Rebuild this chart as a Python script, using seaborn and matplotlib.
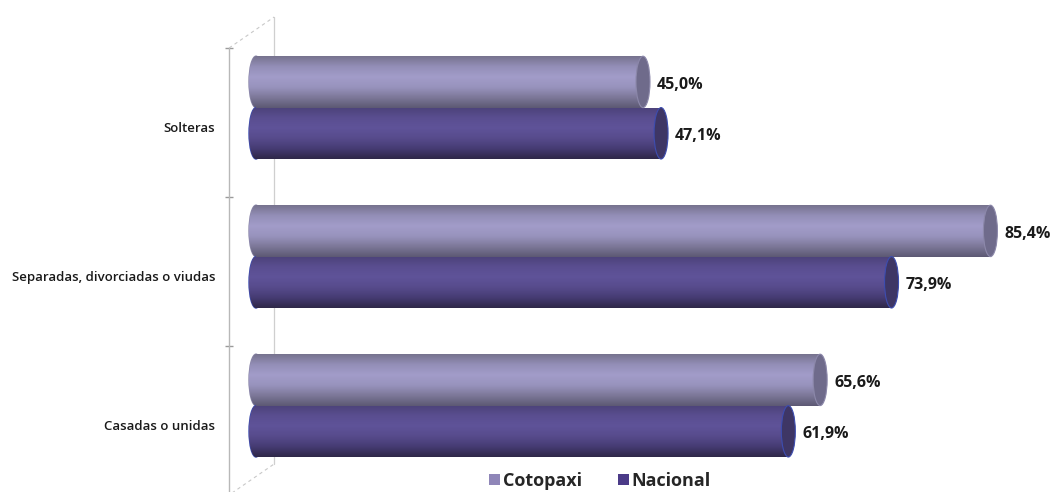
import numpy as np
import pandas as pd
import matplotlib
matplotlib.use("Agg")
import matplotlib.pyplot as plt
import matplotlib.transforms as mtrans
from matplotlib.patches import Ellipse, Rectangle
from matplotlib.colors import LinearSegmentedColormap
import seaborn as sns

# ---- data ----
categories = ["Solteras", "Separadas, divorciadas o viudas", "Casadas o unidas"]
series = ["Cotopaxi", "Nacional"]
cotopaxi = [45.0, 85.4, 65.6]
nacional = [47.1, 73.9, 61.9]

df = pd.DataFrame({
    "categoria": categories * 2,
    "serie": [series[0]] * 3 + [series[1]] * 3,
    "valor": cotopaxi + nacional,
})

sns.set_theme(style="white")
plt.rcParams["font.family"] = ["Open Sans", "DejaVu Sans"]

legend_colors = {"Cotopaxi": "#8f86b8", "Nacional": "#4b3b88"}
# vertical shading of each cylinder (top -> bottom)
shades = {
    "Cotopaxi": ["#77738f", "#948fb8", "#a29cc9", "#9893bd", "#7d7899", "#5d5974"],
    "Nacional": ["#4c427a", "#5a4e90", "#5f5399", "#574b8c", "#463c74", "#2f2849"],
}
cap_face = {"Cotopaxi": "#6f6b8b", "Nacional": "#3e3665"}
cap_edge = {"Cotopaxi": "#8c88aa", "Nacional": "#3d4db0"}

W, H, DPI = 10.54, 4.92, 100
fig = plt.figure(figsize=(W, H), dpi=DPI)
px_per_unit = 8.6
xmin, xmax = -1.5, 90
zero_px, top_px, bot_px = 256, 48, 495
left_px = zero_px + xmin * px_per_unit
ax = fig.add_axes([left_px / 1054, (492 - bot_px) / 492,
                   (xmax - xmin) * px_per_unit / 1054, (bot_px - top_px) / 492])

sns.barplot(data=df, y="categoria", x="valor", hue="serie", order=categories,
            hue_order=series, orient="h", width=0.69, dodge=True,
            palette=legend_colors, ax=ax, legend=False)

cap_w = 14 / px_per_unit  # cap ellipse width in data units

for cont, name in zip(ax.containers, series):
    cmap = LinearSegmentedColormap.from_list(name, shades[name])
    grad = np.linspace(0, 1, 64).reshape(-1, 1)
    for bar, val in zip(cont.patches, cont.datavalues):
        x0, y0 = bar.get_x(), bar.get_y()
        w, h = bar.get_width(), bar.get_height()
        yc = y0 + h / 2
        bar.set_facecolor("none")
        bar.set_edgecolor("none")
        # left rounded end
        lcap = Ellipse((x0, yc), cap_w, h, facecolor="none",
                       edgecolor=cap_edge[name], lw=1.0, zorder=2)
        ax.add_patch(lcap)
        img_l = ax.imshow(grad, cmap=cmap, aspect="auto", zorder=2,
                          extent=[x0 - cap_w, x0 + cap_w, y0 + h, y0],
                          interpolation="bilinear")
        img_l.set_clip_path(lcap)
        # cylinder body
        body = Rectangle((x0, y0), w, h, facecolor="none", edgecolor="none")
        ax.add_patch(body)
        img = ax.imshow(grad, cmap=cmap, aspect="auto", zorder=3,
                        extent=[x0, x0 + w, y0 + h, y0],
                        interpolation="bilinear")
        img.set_clip_path(body)
        # right end face
        rcap = Ellipse((x0 + w, yc), cap_w, h, facecolor=cap_face[name],
                       edgecolor=cap_edge[name], lw=0.8, zorder=4)
        ax.add_patch(rcap)
        # value label
        lab = f"{val:.1f}".replace(".", ",") + "%"
        ax.annotate(lab, (x0 + w + cap_w / 2, yc), xytext=(5, -2),
                    textcoords="offset points", ha="left", va="center",
                    fontsize=11.5, fontweight="bold", color="#1a1a1a", zorder=5)

ax.set_xlim(xmin, xmax)
ax.set_ylim(2.6, -0.4)

# axes appearance (offsets below in pixels, converted to points where needed)
spine_gap_px = 14
pt = 72 / DPI
for s in ["top", "right", "bottom"]:
    ax.spines[s].set_visible(False)
ax.spines["left"].set_position(("outward", spine_gap_px * pt))
ax.spines["left"].set_color("#b8b8b8")
ax.spines["left"].set_linewidth(1.0)
ax.set_xticks([])
ax.set_xlabel("")
ax.set_ylabel("")
ax.set_yticks(range(len(categories)))
ax.set_yticklabels(categories, fontsize=9.5, fontweight="semibold",
                   color="#1a1a1a")
ax.tick_params(axis="y", which="major", length=0, pad=14 * pt)
shift = mtrans.ScaledTranslation(0, -19 / DPI, fig.dpi_scale_trans)
for t in ax.get_yticklabels():
    t.set_transform(t.get_transform() + shift)
ax.set_yticks([-0.4, 0.6, 1.6, 2.6], minor=True)
ax.tick_params(axis="y", which="minor", length=8 * pt, direction="inout",
               color="#9a9a9a", width=1.0, left=True)

# back wall of the 3D frame
back = mtrans.offset_copy(ax.transAxes, fig=fig, x=31, y=31, units="dots")
ax.plot([0, 0], [0.0, 1], color="#cfcfcf", lw=0.9, transform=back,
        clip_on=False, zorder=0)
inv = fig.transFigure.inverted()
for yy in (0, 1):
    p0 = ax.transAxes.transform((0, yy)) + np.array([-spine_gap_px, 0])
    p1 = back.transform((0, yy))
    a, b = inv.transform(p0), inv.transform(p1)
    fig.add_artist(plt.Line2D([a[0], b[0]], [a[1], b[1]], color="#c8c8c8",
                              lw=0.8, ls=(0, (3, 3)), transform=fig.transFigure))

# legend
handles = [Rectangle((0, 0), 1, 1, facecolor=legend_colors[s], edgecolor="none")
           for s in series]
fig.legend(handles, series, loc="center", bbox_to_anchor=(600 / 1054, 1 - 481 / 492),
           ncol=2, frameon=False, prop={"weight": "bold", "size": 13},
           handlelength=0.6, handleheight=0.6, handletextpad=0.15,
           columnspacing=2.0)

fig.savefig("out.png", dpi=DPI, facecolor="white")
